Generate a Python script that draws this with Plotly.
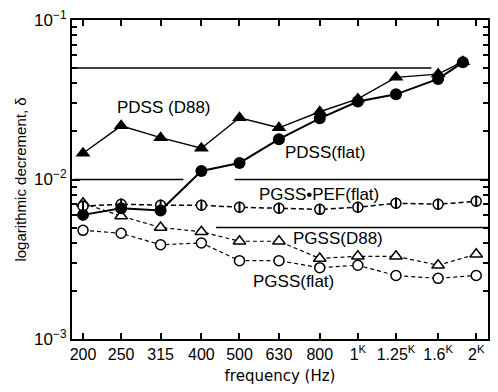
import plotly.graph_objects as go
import math

freq = [200, 250, 315, 400, 500, 630, 800, 1000, 1250, 1600, 2000]
freq_labels = ["200", "250", "315", "400", "500", "630", "800",
               "1<sup>K</sup>", "1.25<sup>K</sup>", "1.6<sup>K</sup>", "2<sup>K</sup>"]

pdss_freq = [200, 250, 315, 400, 500, 630, 800, 1000, 1250, 1600, 1850]
pdss_d88 = [0.0146, 0.0217, 0.0183, 0.0157, 0.0244, 0.0211, 0.0266, 0.0320, 0.0437, 0.0458, 0.0548]
pdss_flat = [0.0060, 0.0066, 0.0064, 0.0113, 0.0127, 0.0179, 0.0242, 0.0308, 0.0342, 0.0427, 0.0543]
pgss_pef_flat = [0.0068, 0.0070, 0.0069, 0.0069, 0.0067, 0.0066, 0.0065, 0.0067, 0.0071, 0.0070, 0.0073]
pgss_d88 = [0.0071, 0.0059, 0.0050, 0.0047, 0.0041, 0.0041, 0.0032, 0.0033, 0.0033, 0.0029, 0.0034]
pgss_flat = [0.0048, 0.0046, 0.0039, 0.0040, 0.0031, 0.0031, 0.0028, 0.0029, 0.0025, 0.0024, 0.0025]

# horizontal guide lines: (level, start freq, end freq)
guide_levels = [0.05, 0.01, 0.01, 0.005]
guide_start = [190, 190, 486, 436]
guide_end = [1538, 360, 2150, 2150]

labels = ["PDSS (D88)", "PDSS(flat)", "PGSS\u2022PEF(flat)", "PGSS(D88)", "PGSS(flat)"]
# label anchor positions (frequency in Hz, decrement)
label_f = [241, 646, 555, 676, 536]
label_d = [0.0281, 0.0147, 0.0080, 0.00424, 0.00231]

FONT = "Liberation Sans, Arial, sans-serif"
fig = go.Figure()

for lv, s, e in zip(guide_levels, guide_start, guide_end):
    fig.add_trace(go.Scatter(x=[s, e], y=[lv, lv], mode="lines",
                             line=dict(color="black", width=1.6),
                             hoverinfo="skip", showlegend=False))

# PGSS (flat) open circles, dashed
fig.add_trace(go.Scatter(x=freq, y=pgss_flat, mode="lines+markers",
                         line=dict(color="black", width=1.2, dash="4px,3px"),
                         marker=dict(symbol="circle", size=10, color="white",
                                     line=dict(color="black", width=1.5)),
                         showlegend=False))
# PGSS (D88) open triangles, dashed
fig.add_trace(go.Scatter(x=freq, y=pgss_d88, mode="lines+markers",
                         line=dict(color="black", width=1.2, dash="4px,3px"),
                         marker=dict(symbol="triangle-up", size=11, color="white",
                                     line=dict(color="black", width=1.5)),
                         showlegend=False))
# PGSS+PEF (flat)
fig.add_trace(go.Scatter(x=freq, y=pgss_pef_flat, mode="lines+markers",
                         line=dict(color="black", width=1.5, dash="5px,3px"),
                         marker=dict(symbol="circle", size=10, color="white",
                                     line=dict(color="black", width=1.5)),
                         showlegend=False))
fig.add_trace(go.Scatter(x=freq, y=pgss_pef_flat, mode="markers",
                         marker=dict(symbol="line-ns", size=8,
                                     line=dict(color="black", width=2)),
                         showlegend=False))
# PDSS (D88) filled triangles
fig.add_trace(go.Scatter(x=pdss_freq, y=pdss_d88, mode="lines+markers",
                         line=dict(color="black", width=1.4),
                         marker=dict(symbol="triangle-up", size=13, color="black"),
                         showlegend=False))
# PDSS (flat) filled circles
fig.add_trace(go.Scatter(x=pdss_freq, y=pdss_flat, mode="lines+markers",
                         line=dict(color="black", width=2),
                         marker=dict(symbol="circle", size=12, color="black"),
                         showlegend=False))

for t, lf, ld in zip(labels, label_f, label_d):
    fig.add_annotation(x=math.log10(lf), y=math.log10(ld), xref="x", yref="y",
                       text=t, showarrow=False,
                       xanchor="left", yanchor="middle",
                       font=dict(family=FONT, size=17, color="black"))

fig.update_layout(
    width=498, height=392,
    margin=dict(l=72, r=8, t=20, b=53),
    paper_bgcolor="white", plot_bgcolor="white",
    font=dict(family=FONT, size=16, color="black"),
)
fig.update_xaxes(type="log", range=[2.273, 3.331],
                 tickvals=freq, ticktext=freq_labels,
                 ticks="inside", ticklen=6, tickwidth=1.5, tickcolor="black",
                 showline=True, linecolor="black", linewidth=2, mirror="ticks",
                 showgrid=False, zeroline=False,
                 title=dict(text="frequency (Hz)",
                            font=dict(family="DejaVu Sans, sans-serif", size=15),
                            standoff=8))
fig.update_yaxes(type="log", range=[-3, -1],
                 tickvals=[0.001, 0.01, 0.1],
                 ticktext=["10<sup>\u22123</sup>", "10<sup>\u22122</sup>", "10<sup>\u22121</sup>"],
                 tickfont=dict(size=17),
                 ticks="inside", ticklen=8, tickwidth=1.5, tickcolor="black",
                 minor=dict(ticks="inside", ticklen=5, tickwidth=1.5, tickcolor="black",
                            tickvals=[m * 10 ** e for e in (-3, -2) for m in range(2, 10)],
                            showgrid=False),
                 showline=True, linecolor="black", linewidth=2, mirror="ticks",
                 showgrid=False, zeroline=False,
                 title=dict(text="logarithmic decrement, \u03b4", font=dict(size=15), standoff=4))

fig.write_html("out.html")
